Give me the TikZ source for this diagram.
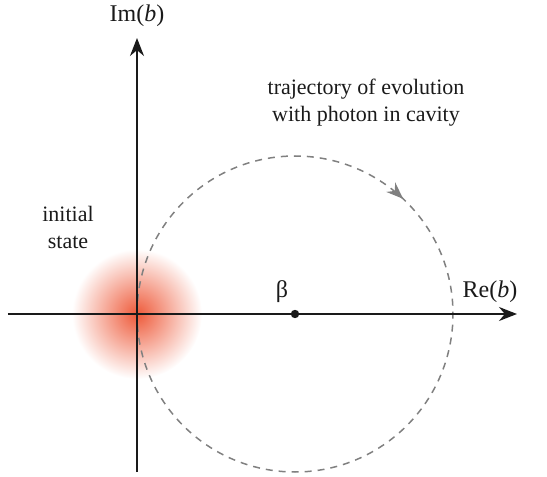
\documentclass[tikz,border=0pt]{standalone}
\usepackage{fontspec}
\setmainfont{Liberation Serif}
\usepackage{xcolor}
\usepackage{tikz}
\usetikzlibrary{arrows.meta,decorations.markings}
\definecolor{ink}{HTML}{1A1A1A}
\definecolor{trail}{HTML}{808080}
\definecolor{glow}{HTML}{EE5A3A}

\begin{document}
\begin{tikzpicture}[x=1pt,y=1pt,
  axis/.style={draw=ink,line width=1.8pt,-{Stealth[length=18pt,width=14pt]}},
  lbl/.style={font=\fontsize{22}{27}\selectfont,align=center,text=ink},
  axlbl/.style={font=\fontsize{24}{28}\selectfont,text=ink},
  orbit/.style={draw=trail,line width=1.5pt,dash pattern=on 7pt off 6pt,
    postaction={decorate,decoration={markings,
      mark=at position 0.37 with {\arrow[trail]{Stealth[length=17pt,width=13pt]}}}}}
]
\useasboundingbox (-137,-163) rectangle (410,314);
% initial state blob
\shade[inner color=glow,outer color=white] (0,0) circle (65);
\coordinate (O) at (0,0);
\coordinate (xl) at (-129,0);
\coordinate (xr) at (380,0);
\coordinate (yb) at (0,-158);
\coordinate (yt) at (0,276);
\coordinate (beta) at (158,0);
% trajectory
\draw[orbit] (O) arc[start angle=180,end angle=-180,radius=158];
\draw[axis] (xl)--(xr);
\draw[axis] (yb)--(yt);
\fill[ink] (beta) circle (4.2);
\node[axlbl] (im) at (0,298) {Im(\textit{b})};
\node[axlbl] (re) at (353,22) {Re(\textit{b})};
\node[axlbl] (blbl) at (145,22) {β};
\node[lbl] (traj) at (229,211) {trajectory of evolution\\with photon in cavity};
\node[lbl] (init) at (-69,87) {initial\\state};
\end{tikzpicture}
\end{document}
